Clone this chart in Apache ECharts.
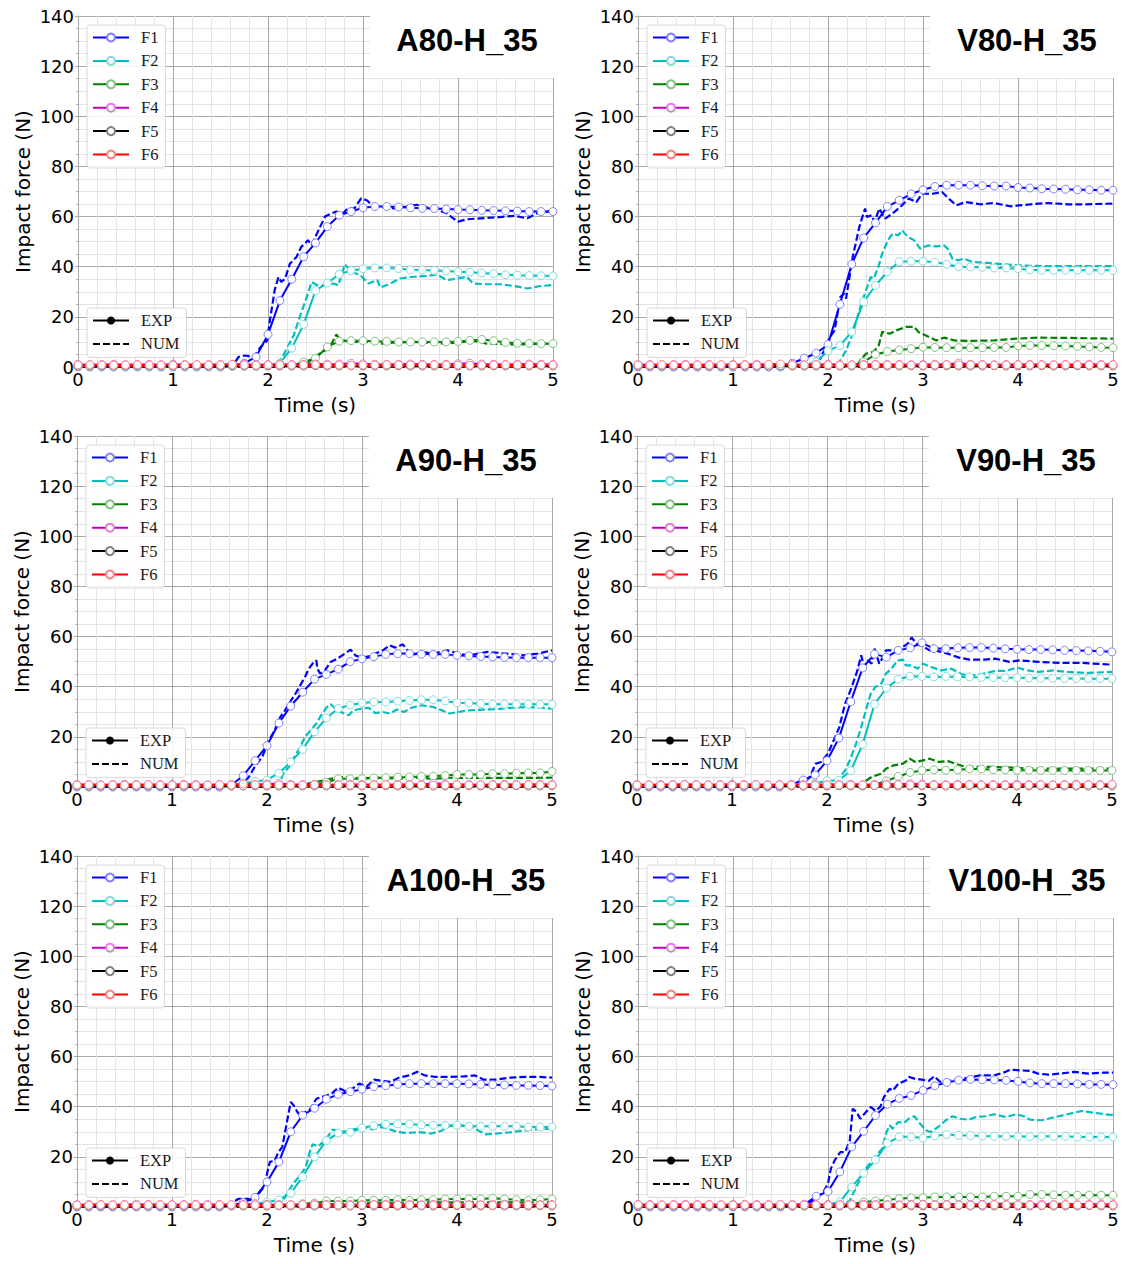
<!DOCTYPE html>
<html>
<head>
<meta charset="utf-8">
<script src="https://cdn.jsdelivr.net/npm/echarts@6/dist/echarts.min.js"></script>
<style>
html,body{margin:0;padding:0;background:#fff;}
#chart{width:1128px;height:1264px;}
</style>
</head>
<body>
<div id="chart"></div>
<script>
// ---------------- DATA ----------------
const PANEL_NAMES = ['A80-H_35','V80-H_35','A90-H_35','V90-H_35','A100-H_35','V100-H_35'];
const FORCE_NAMES = ['F1','F2','F3','F4','F5','F6'];
const X_TICKS = [0,1,2,3,4,5];
const Y_TICKS = [0,20,40,60,80,100,120,140];
const EXP_STEP = 0.125; // EXP samples (s), one marker per sample

// ---- A80-H_35 ----
const A80_F1_EXP = [0,0,0,0,0,0,0,0,0,0,0,0,0,0.3,1.5,4,13,26.5,35,44,49.5,56,60.5,62,63.5,64,64,63.8,63.5,63.3,63.2,63,62.8,62.7,62.5,62.4,62.3,62.2,62,62,62];
const A80_F2_EXP = [0.3,0.3,0.3,0.3,0.3,0.3,0.3,0.3,0.3,0.3,0.3,0.3,0.3,0.3,0.3,0.3,0.3,1.5,7.5,17,30.5,33.5,37,38.5,39.2,39.5,39.5,39.3,38.8,38.7,38.5,38.3,38,37.8,37.5,37.2,36.8,36.6,36.5,36.4,36.3];
const A80_F3_EXP = [0.5,0.5,0.5,0.5,0.5,0.5,0.5,0.5,0.5,0.5,0.5,0.5,0.5,0.5,0.5,0.5,0.5,0.5,0.5,2,3.5,8,10.3,10.5,10.5,10.3,10.2,10,10,10,10,10,10.2,10.6,11,10.5,9.8,9.5,9.4,9.3,9.3];
const A80_F4_EXP = [1.0,0.9,1.0,1.1,0.9,1.0,1.0,0.9,1.1,1.0,0.9,1.0,1.0,1.1,1.0,0.9,1.0,1.1,1.0,1.0,1.2,1.1,1.2,1.5,1.3,1.1,1.0,1.1,1.2,1.1,1.0,1.1,1.3,1.5,1.2,1.1,1.0,1.1,1.2,1.1,1.0];
const A80_F5_EXP = [0.4,0.4,0.5,0.4,0.4,0.5,0.4,0.4,0.4,0.5,0.4,0.4,0.4,0.5,0.4,0.4,0.5,0.4,0.4,0.4,0.5,0.4,0.4,0.5,0.4,0.4,0.4,0.5,0.4,0.4,0.4,0.5,0.4,0.4,0.4,0.5,0.4,0.4,0.4,0.5,0.4];
const A80_F6_EXP = [0.8,0.9,0.8,0.7,0.8,0.9,0.8,0.8,0.7,0.8,0.9,0.8,0.8,1.0,0.8,0.7,0.8,0.9,0.8,0.8,0.9,0.8,0.8,0.7,0.8,0.8,0.9,0.8,0.8,0.8,0.9,0.8,0.8,0.7,0.8,0.8,0.9,0.8,0.8,0.8,0.8];
const A80_F1_NUM = [[0,0],[1.6,0],[1.63,0.5],[1.69,4],[1.76,4.6],[1.85,3.9],[1.92,7.9],[1.99,10.5],[2.02,18.5],[2.07,30.6],[2.11,35.9],[2.14,33.9],[2.18,35.2],[2.23,41.2],[2.3,43.9],[2.35,47.9],[2.39,49.2],[2.42,50.6],[2.46,48.6],[2.49,51.2],[2.55,56],[2.6,60],[2.67,61.3],[2.72,62],[2.79,61.3],[2.84,63.3],[2.91,63.3],[2.98,67.3],[3.04,66.5],[3.09,64.7],[3.18,64],[3.32,63.3],[3.46,64],[3.57,64.7],[3.67,63.7],[3.78,62.7],[3.88,61.3],[3.95,59.3],[4.0,58],[4.09,58.9],[4.24,59.3],[4.41,59.7],[4.59,60.3],[4.73,59.3],[4.83,61.3],[4.94,62],[5,62.4]];
const A80_F2_NUM = [[0,0],[2.05,0],[2.09,1],[2.16,4.6],[2.27,12.6],[2.34,20.6],[2.39,25.9],[2.46,33.9],[2.52,32.6],[2.6,32.6],[2.69,33.3],[2.74,32.6],[2.81,41],[2.87,38],[2.97,36.7],[3.06,33.3],[3.15,34.7],[3.18,31.7],[3.29,33.3],[3.39,35.3],[3.53,36],[3.67,36.3],[3.78,36.9],[3.88,34.7],[3.99,35.3],[4.09,36],[4.16,33.3],[4.3,33],[4.45,33],[4.59,32.3],[4.73,31.3],[4.87,32.3],[5,32.7]];
const A80_F3_NUM = [[0,0],[2.35,0],[2.4,1],[2.49,4],[2.6,6.6],[2.67,9.3],[2.72,13],[2.76,10.7],[2.9,10],[3.04,10],[3.18,9.3],[3.35,9.8],[3.53,10],[3.7,9.6],[3.88,9.3],[4.0,9.8],[4.16,10.5],[4.3,9.3],[4.45,9.2],[4.59,9],[4.8,9.2],[5,9.3]];
const A80_F4_NUM = [[0,0.2],[1.8,0.2],[2.5,0.4],[3,0.3],[4,0.4],[5,0.3]];
const A80_F5_NUM = [[0,0.1],[2.5,0.2],[5,0.1]];
const A80_F6_NUM = [[0,0.3],[1.7,0.3],[2.2,0.5],[3,0.4],[4,0.4],[5,0.3]];

// ---- V80-H_35 ----
const V80_F1_EXP = [0,0,0,0,0,0,0,0,0,0,0,0,0,1.5,3.5,5.5,9,25,41,51.5,57.5,64,66.5,69,70.7,72,72.5,72.5,72.5,72.3,72.2,72.2,71.6,71.4,71.1,71,70.9,70.7,70.7,70.5,70.5];
const V80_F2_EXP = [0.5,0.5,0.5,0.5,0.5,0.5,0.5,0.5,0.5,0.5,0.5,0.5,0.5,0.5,0.5,2,6.5,8.5,14,26,32.5,38,42,42.2,42.2,41.8,41,40,39.9,39.8,39.5,39.5,39.2,38.8,38.6,38.6,38.6,38.6,38.6,38.6,38.6];
const V80_F3_EXP = [0.5,0.5,0.5,0.5,0.5,0.5,0.5,0.5,0.5,0.5,0.5,0.5,0.5,0.5,0.5,0.5,0.5,0.5,0.5,2,5,6.2,6.8,7.3,7.9,7.8,7.7,7.7,7.7,7.7,7.8,7.8,8.4,8.6,8.6,8.5,8.4,8.2,8,7.8,7.7];
const V80_F4_EXP = [0.9,1.0,0.9,1.0,1.1,0.9,1.0,0.9,1.0,1.0,1.1,0.9,1.0,1.0,0.9,1.0,1.1,1.0,0.9,1.0,1.1,1.0,1.0,0.9,1.0,1.1,1.0,1.6,1.1,1.0,0.9,1.0,1.0,1.1,1.0,0.9,1.0,1.0,1.1,1.0,1.0];
const V80_F5_EXP = [0.4,0.5,0.4,0.4,0.4,0.5,0.4,0.4,0.5,0.4,0.4,0.4,0.5,0.4,0.4,0.4,0.5,0.4,0.4,0.5,0.4,0.4,0.4,0.5,0.4,0.4,0.5,0.4,0.4,0.4,0.5,0.4,0.4,0.4,0.5,0.4,0.4,0.5,0.4,0.4,0.4];
const V80_F6_EXP = [0.8,0.8,0.9,0.8,0.7,0.8,0.8,0.9,0.8,0.8,0.7,1.0,1.2,0.8,0.8,0.9,0.8,0.7,0.8,0.8,0.9,0.8,0.8,0.8,0.7,0.8,0.9,0.8,0.8,0.8,0.7,0.8,0.9,0.8,0.8,0.8,0.9,0.8,0.8,0.8,0.9];
const V80_F1_NUM = [[0,0],[1.8,0],[1.92,3.3],[2.02,12],[2.07,14.6],[2.13,27.9],[2.17,29.3],[2.19,27.3],[2.26,43.9],[2.33,55.9],[2.39,63.2],[2.41,59.8],[2.46,60.5],[2.49,57.8],[2.54,63.2],[2.6,59.2],[2.68,61.2],[2.78,64.5],[2.85,67.2],[2.93,65.8],[2.99,69.1],[3.1,69.1],[3.2,69.8],[3.27,67.2],[3.35,64.5],[3.45,65.8],[3.6,64.9],[3.75,65.4],[3.92,64.1],[4.13,64.9],[4.32,65.4],[4.52,64.9],[4.71,64.9],[5,65.2]];
const V80_F2_NUM = [[0,0],[2.08,0],[2.11,1.3],[2.19,6.6],[2.26,13.3],[2.34,23.9],[2.4,30.6],[2.45,35.9],[2.48,35.2],[2.53,39.9],[2.57,45.2],[2.63,50.5],[2.68,53.2],[2.74,52.5],[2.78,54.5],[2.84,51.9],[2.91,50.5],[2.97,47.2],[3.05,48.5],[3.14,48.1],[3.22,48.5],[3.26,47.2],[3.31,43.2],[3.37,42.6],[3.43,43.2],[3.52,41.9],[3.68,41.5],[3.83,41],[3.98,40.6],[4.21,40.3],[4.52,40.2],[5,40.2]];
const V80_F3_NUM = [[0,0],[2.3,0],[2.34,2.7],[2.4,5.3],[2.47,6],[2.53,8],[2.57,14],[2.65,13.3],[2.72,14.6],[2.82,16],[2.91,16],[2.95,14],[3.03,12.6],[3.14,10.6],[3.22,11.7],[3.33,10.6],[3.48,10.4],[3.75,10.6],[3.98,11.3],[4.21,11.7],[4.52,11.6],[5,11.3]];
const V80_F4_NUM = [[0,0.2],[1.9,0.2],[2.6,0.5],[3.3,0.4],[4.2,0.4],[5,0.3]];
const V80_F5_NUM = [[0,0.1],[2.6,0.2],[5,0.1]];
const V80_F6_NUM = [[0,0.3],[1.8,0.3],[2.3,0.5],[3.2,0.4],[4.1,0.4],[5,0.3]];

// ---- A90-H_35 ----
const A90_F1_EXP = [0,0,0,0,0,0,0,0,0,0,0,0,0,0.8,4.5,10.5,16.5,25.5,32.3,37.8,43,44.9,47,50,51.1,52,52.9,53.2,53.2,53,52.9,52.9,52.5,52.3,52.1,51.9,51.7,51.6,51.6,51.6,51.6];
const A90_F2_EXP = [0.5,0.5,0.5,0.5,0.5,0.5,0.5,0.5,0.5,0.5,0.5,0.5,0.5,0.5,1.5,2.2,2.8,5.5,10,15,22,27.5,31.3,32.7,33.5,33.9,33.9,34.2,34.5,34.8,34.8,34.3,33.6,33.5,33.2,33,33,33,33,33,33];
const A90_F3_EXP = [0.5,0.5,0.5,0.5,0.5,0.5,0.5,0.5,0.5,0.5,0.5,0.5,0.5,0.5,0.5,0.5,0.5,0.5,0.5,0.8,1,1.8,3.3,3.3,3.3,3.6,3.7,3.9,4,4.2,4.3,4.6,5,5,5,5.3,5.3,5.5,5.6,5.6,6.2];
const A90_F4_EXP = [1.0,1.0,0.9,1.0,1.1,1.0,0.9,1.0,1.0,1.1,1.0,0.9,1.0,1.0,1.1,1.0,1.2,1.4,1.1,1.0,1.0,0.9,1.0,1.1,1.0,1.0,0.9,1.0,1.1,1.0,1.5,1.2,1.0,1.0,0.9,1.0,1.1,1.0,1.0,1.1,1.0];
const A90_F5_EXP = [0.5,0.4,0.4,0.4,0.5,0.4,0.4,0.5,0.4,0.4,0.4,0.5,0.4,0.4,0.4,0.5,0.4,0.4,0.5,0.4,0.4,0.4,0.5,0.4,0.4,0.4,0.5,0.4,0.4,0.5,0.4,0.4,0.4,0.5,0.4,0.4,0.4,0.5,0.4,0.4,0.5];
const A90_F6_EXP = [0.8,0.9,0.8,0.8,0.7,0.8,0.9,0.8,0.8,0.8,0.7,0.8,0.9,0.8,1.2,0.9,0.8,0.8,0.7,0.8,0.9,0.8,0.8,0.8,0.7,0.8,0.9,0.8,0.8,0.8,0.7,0.8,0.9,0.8,0.8,0.8,0.7,0.8,0.9,0.8,0.8];
const A90_F1_NUM = [[0,0],[1.64,0],[1.74,1.3],[1.81,4],[1.87,8],[1.95,12],[2.02,18.6],[2.08,22.6],[2.14,27.9],[2.19,30.6],[2.23,33.2],[2.29,36.6],[2.34,39.9],[2.4,43.9],[2.44,47.2],[2.48,49.2],[2.52,50.5],[2.53,47.2],[2.56,45.2],[2.61,46.5],[2.67,49.9],[2.74,51.2],[2.82,53.2],[2.88,54.8],[2.93,52.5],[2.99,51.6],[3.07,52.1],[3.14,53.2],[3.22,54.5],[3.29,56.5],[3.35,55.6],[3.43,56.9],[3.48,54.5],[3.52,52.5],[3.63,53.9],[3.75,53.2],[3.9,54.5],[4.01,53.2],[4.13,52.5],[4.32,53.9],[4.51,53.2],[4.7,52.5],[4.85,53.2],[5,54.5]];
const A90_F2_NUM = [[0,0],[2.12,0],[2.17,5.3],[2.23,8],[2.29,12],[2.34,15.3],[2.4,20],[2.46,22.6],[2.52,25.3],[2.57,28.6],[2.63,31.9],[2.67,33],[2.74,30.6],[2.8,29.5],[2.86,28.6],[2.91,30.6],[2.99,31.2],[3.07,31.6],[3.14,29.5],[3.22,29.9],[3.29,29.3],[3.37,30.9],[3.44,29.9],[3.52,31.6],[3.63,32.6],[3.75,31.9],[3.84,30.6],[3.92,29.3],[4.01,29.9],[4.13,30.6],[4.28,30.9],[4.43,31.1],[4.58,31.6],[4.73,31.9],[4.89,31.6],[5,31.2]];
const A90_F3_NUM = [[0,0],[2.23,0],[2.42,1.3],[2.61,2.7],[2.72,3.7],[2.84,4],[2.99,3.5],[3.18,3.7],[3.37,3.3],[3.56,3.7],[3.75,3.3],[3.94,3.7],[4.13,3.6],[4.51,3.6],[5,3.7]];
const A90_F4_NUM = [[0,0.2],[1.8,0.2],[2.4,0.4],[3.2,0.3],[4.3,0.4],[5,0.3]];
const A90_F5_NUM = [[0,0.1],[2.4,0.2],[5,0.1]];
const A90_F6_NUM = [[0,0.3],[1.7,0.3],[2.1,0.5],[3,0.4],[4,0.4],[5,0.3]];

// ---- V90-H_35 ----
const V90_F1_EXP = [0,0,0,0,0,0,0,0,0,0,0,0,0,1,2.8,4.8,10.5,19.5,34,47.5,53,51.8,54.5,55.5,57.5,55.2,55.2,55.5,55.6,55.6,55.4,55.1,54.9,54.8,54.8,54.7,54.5,54.4,54.3,54.1,53.9];
const V90_F2_EXP = [0.5,0.5,0.5,0.5,0.5,0.5,0.5,0.5,0.5,0.5,0.5,0.5,0.5,0.5,0.5,1.5,2.5,2.7,6.5,17,33,39.5,43,44.2,44.1,43.9,44.1,43.9,43.9,43.7,43.7,43.6,43.6,43.5,43.4,43.4,43.3,43.3,43.2,43.2,43.2];
const V90_F3_EXP = [0.5,0.5,0.5,0.5,0.5,0.5,0.5,0.5,0.5,0.5,0.5,0.5,0.5,0.5,0.5,0.5,0.5,0.5,0.5,0.5,0.9,2.4,4.2,5.8,6.6,6.9,6.7,6.9,7.2,7.2,6.9,6.9,6.7,6.7,6.6,6.6,6.6,6.6,6.6,6.6,6.6];
const V90_F4_EXP = [1.0,0.9,1.0,1.0,1.1,1.0,0.9,1.0,1.1,1.0,1.0,0.9,1.0,1.1,1.0,1.0,0.9,1.0,1.1,1.0,1.0,1.2,1.1,1.3,1.2,1.0,1.0,1.1,1.0,0.9,1.0,1.0,1.1,1.0,1.0,0.9,1.0,1.1,1.0,1.0,1.0];
const V90_F5_EXP = [0.4,0.4,0.5,0.4,0.4,0.4,0.5,0.4,0.4,0.5,0.4,0.4,0.4,0.5,0.4,0.4,0.4,0.5,0.4,0.4,0.5,0.4,0.4,0.4,0.5,0.4,0.4,0.4,0.5,0.4,0.4,0.5,0.4,0.4,0.4,0.5,0.4,0.4,0.4,0.5,0.4];
const V90_F6_EXP = [0.8,0.8,0.7,0.8,0.9,0.8,0.8,0.8,0.7,0.8,0.9,0.8,0.8,0.8,0.7,0.8,0.9,0.8,0.8,0.8,0.7,0.8,0.9,0.8,0.8,0.8,0.7,0.8,0.9,0.8,0.8,0.8,0.7,0.8,0.9,0.8,0.8,0.8,0.9,0.8,1.0];
const V90_F1_NUM = [[0,0],[1.61,0],[1.75,1.3],[1.82,4],[1.88,9.3],[1.94,10],[2.01,13.3],[2.07,18.6],[2.13,23.9],[2.19,33.2],[2.22,35.9],[2.26,39.9],[2.32,46.5],[2.36,52.5],[2.39,47.9],[2.43,50.5],[2.47,49.2],[2.5,55.2],[2.55,49.2],[2.59,51.9],[2.62,54.5],[2.68,54.5],[2.74,54.5],[2.8,55.9],[2.85,57.2],[2.89,59.6],[2.95,56.9],[3.01,56.1],[3.08,54.5],[3.16,54.3],[3.27,53.2],[3.39,51.6],[3.5,50.8],[3.65,50.8],[3.77,51.2],[3.92,49.9],[4.03,50.5],[4.23,49.9],[4.45,49.5],[4.68,49.5],[5,48.8]];
const V90_F2_NUM = [[0,0],[2.01,0],[2.11,2.7],[2.19,6.6],[2.24,10.6],[2.3,16.6],[2.36,23.9],[2.41,30.6],[2.46,37.2],[2.51,39.9],[2.57,41.2],[2.62,45.2],[2.68,47.2],[2.74,50.5],[2.8,50.8],[2.83,48.5],[2.89,48.5],[2.95,47.2],[3.01,49.2],[3.08,48.1],[3.2,46.5],[3.31,47.2],[3.42,44.9],[3.54,44.5],[3.65,45.2],[3.77,46.3],[3.88,46.3],[4.0,47.6],[4.11,46.5],[4.23,45.9],[4.38,46.5],[4.53,45.9],[4.72,45.5],[5,45.9]];
const V90_F3_NUM = [[0,0],[2.24,0],[2.36,1.3],[2.47,4],[2.57,5.3],[2.62,7.3],[2.7,8.6],[2.8,9.3],[2.87,11.3],[2.93,10],[3.01,10.6],[3.08,11.3],[3.18,10],[3.27,10.4],[3.35,9.3],[3.46,8],[3.62,8],[3.77,8],[3.96,7.7],[4.15,7.3],[4.53,7.3],[5,7.3]];
const V90_F4_NUM = [[0,0.2],[1.9,0.2],[2.6,0.5],[3.4,0.4],[4.2,0.4],[5,0.3]];
const V90_F5_NUM = [[0,0.1],[2.7,0.2],[5,0.1]];
const V90_F6_NUM = [[0,0.3],[1.8,0.3],[2.3,0.5],[3.1,0.4],[4,0.4],[5,0.3]];

// ---- A100-H_35 ----
const A100_F1_EXP = [0,0,0,0,0,0,0,0,0,0,0,0,0,0.5,1.8,3.8,10,18,30,36.6,39.4,43,44.9,46,47,48,48.4,48.9,49.2,49.2,49.2,49.2,49.2,49.1,48.9,48.8,48.7,48.5,48.5,48.4,48.3];
const A100_F2_EXP = [0.5,0.5,0.5,0.5,0.5,0.5,0.5,0.5,0.5,0.5,0.5,0.5,0.5,0.5,0.5,1.2,2,2.8,5.5,12,20,26.5,29.5,29.8,31.5,32.5,33,33.2,33.1,32.7,32.6,32.6,32.6,32.2,32.2,32.2,32.2,32.2,31.9,31.9,31.9];
const A100_F3_EXP = [0.5,0.5,0.5,0.5,0.5,0.5,0.5,0.5,0.5,0.5,0.5,0.5,0.5,0.5,0.5,0.5,0.5,0.5,0.5,1.3,1.6,2.4,2.4,2.4,2.7,2.7,2.7,2.9,2.7,2.9,2.9,3.2,3.2,3.2,3.2,3.5,3.2,2.9,2.7,2.9,3.2];
const A100_F4_EXP = [0.9,1.0,1.0,0.9,1.0,1.1,1.0,1.0,0.9,1.0,1.1,1.0,1.0,0.9,1.0,1.3,1.1,1.0,1.0,0.9,1.0,1.1,1.0,1.0,0.9,1.0,1.1,1.0,1.0,0.9,1.0,1.1,1.0,1.0,0.9,1.0,1.1,1.0,1.0,0.9,1.0];
const A100_F5_EXP = [0.4,0.4,0.4,0.5,0.4,0.4,0.5,0.4,0.4,0.4,0.5,0.4,0.4,0.5,0.4,0.4,0.4,0.5,0.4,0.4,0.4,0.5,0.4,0.4,0.5,0.4,0.4,0.4,0.5,0.4,0.4,0.4,0.5,0.4,0.4,0.5,0.4,0.4,0.4,0.5,0.4];
const A100_F6_EXP = [0.8,0.8,0.9,0.8,0.8,0.7,0.8,0.9,0.8,0.8,0.8,0.7,0.8,0.9,0.8,0.8,0.8,0.7,0.8,0.9,0.8,0.8,0.8,0.7,0.8,0.9,0.8,0.8,0.8,0.7,0.8,0.9,0.8,0.8,0.8,0.7,0.8,0.9,0.8,0.8,0.8];
const A100_F1_NUM = [[0,0],[1.57,0],[1.65,2],[1.7,3.3],[1.8,3.3],[1.86,2],[1.91,5.3],[1.97,8],[2.0,13.3],[2.03,18],[2.08,18.4],[2.12,21.9],[2.16,23.9],[2.2,31.9],[2.25,41.9],[2.28,40.6],[2.32,37.9],[2.36,35.9],[2.4,37.9],[2.44,38.3],[2.49,41.2],[2.52,43.2],[2.58,43.9],[2.63,44.5],[2.69,45.5],[2.75,47.6],[2.82,46.3],[2.9,47.2],[2.97,49.2],[3.05,48.1],[3.13,50.8],[3.22,50.3],[3.3,49.9],[3.39,51.6],[3.5,52.5],[3.58,53.9],[3.66,52.5],[3.77,51.9],[3.92,51.9],[4.07,52.1],[4.19,52.5],[4.28,50.8],[4.41,50.8],[4.56,51.6],[4.72,51.9],[4.87,51.9],[5,51.6]];
const A100_F2_NUM = [[0,0],[2.1,0],[2.18,3.3],[2.23,6.6],[2.29,10],[2.35,12.6],[2.41,16],[2.45,21.9],[2.48,25],[2.54,24.2],[2.59,25.9],[2.65,28.6],[2.69,30.9],[2.77,29.9],[2.84,30.3],[2.94,31.2],[3.01,31.9],[3.11,30.9],[3.2,31.9],[3.3,30.9],[3.37,29.9],[3.48,29.5],[3.6,29.9],[3.73,29.3],[3.83,30.3],[3.92,32.2],[4.03,32.6],[4.15,32.2],[4.22,30.6],[4.3,29],[4.41,29.3],[4.56,29.8],[4.72,30.6],[4.87,31.1],[5,31.2]];
const A100_F3_NUM = [[0,0],[2.3,0],[2.5,0.8],[2.8,1.3],[3.0,1.6],[3.5,1.8],[4.0,1.9],[4.5,1.9],[5,1.9]];
const A100_F4_NUM = [[0,0.2],[1.8,0.2],[2.5,0.4],[3.3,0.3],[4.2,0.4],[5,0.3]];
const A100_F5_NUM = [[0,0.1],[2.5,0.2],[5,0.1]];
const A100_F6_NUM = [[0,0.3],[1.7,0.3],[2.2,0.5],[3,0.4],[4.1,0.4],[5,0.3]];

// ---- V100-H_35 ----
const V100_F1_EXP = [0,0,0,0,0,0,0,0,0,0,0,0,0,0.3,1,4.3,6.2,14,24,30.2,36.5,41,43.3,44.5,46.5,48.3,49.7,50.6,50.9,50.8,50.7,50.5,50.1,49.5,49.2,49.2,49.2,49.1,48.9,48.9,48.8];
const V100_F2_EXP = [0.5,0.5,0.5,0.5,0.5,0.5,0.5,0.5,0.5,0.5,0.5,0.5,0.5,0.5,0.5,0.5,1,2,8,13.5,18.8,25.5,28,28,27.5,28.4,28.9,28.6,28.5,28.3,28.2,28.2,28.1,28.1,28.2,28.2,28.2,27.9,27.9,27.9,27.9];
const V100_F3_EXP = [0.5,0.5,0.5,0.5,0.5,0.5,0.5,0.5,0.5,0.5,0.5,0.5,0.5,0.5,0.5,0.5,0.5,0.5,1.2,2,2.4,2.9,3.3,3.7,3.7,4,4,4,4,4,4.3,4.3,4.3,5,5,4.9,4.7,4.7,4.7,4.7,4.7];
const V100_F4_EXP = [1.0,1.0,0.9,1.0,1.1,1.0,1.0,0.9,1.0,1.1,1.0,1.0,0.9,1.0,1.1,1.0,1.0,0.9,1.0,1.1,1.0,1.0,0.9,1.0,1.1,1.0,1.0,0.9,1.0,1.1,1.0,1.0,0.9,1.0,1.1,1.0,1.0,0.9,1.0,1.1,1.0];
const V100_F5_EXP = [0.4,0.5,0.4,0.4,0.4,0.5,0.4,0.4,0.4,0.5,0.4,0.4,0.5,0.4,0.4,0.4,0.5,0.4,0.4,0.4,0.5,0.4,0.4,0.5,0.4,0.4,0.4,0.5,0.4,0.4,0.4,0.5,0.4,0.4,0.5,0.4,0.4,0.4,0.5,0.4,0.4];
const V100_F6_EXP = [0.9,0.8,0.8,0.8,0.7,0.8,0.9,0.8,0.8,0.8,0.7,0.8,0.9,0.8,0.8,0.8,0.7,0.8,0.9,0.8,0.8,0.8,0.7,0.8,0.9,0.8,0.8,0.8,0.7,0.8,0.9,0.8,0.8,0.8,0.7,0.8,0.9,0.8,0.8,0.8,0.8];
const V100_F1_NUM = [[0,0],[1.6,0],[1.73,1.3],[1.82,2],[1.88,4],[1.94,5.3],[2.0,9.3],[2.03,15.3],[2.07,18.6],[2.13,21.9],[2.18,21.9],[2.23,26.6],[2.26,39.2],[2.3,37.9],[2.34,35.2],[2.4,37.9],[2.45,39.9],[2.5,38.3],[2.55,39.9],[2.59,43.9],[2.65,47.2],[2.68,46.3],[2.74,49.2],[2.82,50.5],[2.85,51.9],[2.91,51.2],[2.99,50.8],[3.06,50.3],[3.12,52.1],[3.18,49.9],[3.26,50.3],[3.37,50.8],[3.48,51.6],[3.6,52.5],[3.75,52.5],[3.87,53.9],[3.92,54.8],[4.02,54.5],[4.13,54.3],[4.21,53.2],[4.32,52.8],[4.44,53.2],[4.59,53.9],[4.74,53.2],[4.9,53.6],[5,53.6]];
const V100_F2_NUM = [[0,0],[2.15,0],[2.23,2.7],[2.28,6.6],[2.34,11.3],[2.4,15.3],[2.45,18],[2.51,20.6],[2.57,23.3],[2.61,29.3],[2.65,32.6],[2.68,31.2],[2.74,33.9],[2.8,33.5],[2.85,35.2],[2.91,36.2],[2.97,33.2],[3.03,30.6],[3.08,29.9],[3.16,31.9],[3.24,34.6],[3.31,36.2],[3.39,35.2],[3.48,34.8],[3.56,35.9],[3.66,36.2],[3.75,37],[3.87,35.9],[3.98,37],[4.06,36.2],[4.13,34.8],[4.25,34.6],[4.36,35.6],[4.52,37],[4.67,38.3],[4.82,37.5],[5,36.6]];
const V100_F3_NUM = [[0,0],[2.3,0],[2.5,0.8],[2.7,1.1],[3.0,1.2],[3.5,1.2],[4,1.3],[4.5,1.2],[5,1.2]];
const V100_F4_NUM = [[0,0.2],[1.8,0.2],[2.5,0.4],[3.3,0.3],[4.2,0.4],[5,0.3]];
const V100_F5_NUM = [[0,0.1],[2.5,0.2],[5,0.1]];
const V100_F6_NUM = [[0,0.3],[1.7,0.3],[2.2,0.5],[3,0.4],[4,0.4],[5,0.3]];

const PANEL_EXP = [
  [A80_F1_EXP,A80_F2_EXP,A80_F3_EXP,A80_F4_EXP,A80_F5_EXP,A80_F6_EXP],
  [V80_F1_EXP,V80_F2_EXP,V80_F3_EXP,V80_F4_EXP,V80_F5_EXP,V80_F6_EXP],
  [A90_F1_EXP,A90_F2_EXP,A90_F3_EXP,A90_F4_EXP,A90_F5_EXP,A90_F6_EXP],
  [V90_F1_EXP,V90_F2_EXP,V90_F3_EXP,V90_F4_EXP,V90_F5_EXP,V90_F6_EXP],
  [A100_F1_EXP,A100_F2_EXP,A100_F3_EXP,A100_F4_EXP,A100_F5_EXP,A100_F6_EXP],
  [V100_F1_EXP,V100_F2_EXP,V100_F3_EXP,V100_F4_EXP,V100_F5_EXP,V100_F6_EXP]
];
const PANEL_NUM = [
  [A80_F1_NUM,A80_F2_NUM,A80_F3_NUM,A80_F4_NUM,A80_F5_NUM,A80_F6_NUM],
  [V80_F1_NUM,V80_F2_NUM,V80_F3_NUM,V80_F4_NUM,V80_F5_NUM,V80_F6_NUM],
  [A90_F1_NUM,A90_F2_NUM,A90_F3_NUM,A90_F4_NUM,A90_F5_NUM,A90_F6_NUM],
  [V90_F1_NUM,V90_F2_NUM,V90_F3_NUM,V90_F4_NUM,V90_F5_NUM,V90_F6_NUM],
  [A100_F1_NUM,A100_F2_NUM,A100_F3_NUM,A100_F4_NUM,A100_F5_NUM,A100_F6_NUM],
  [V100_F1_NUM,V100_F2_NUM,V100_F3_NUM,V100_F4_NUM,V100_F5_NUM,V100_F6_NUM]
];

// ---------------- STYLE / LAYOUT ----------------
const LINE_COLORS = ['#0000ff','#00bfbf','#008000','#bf00bf','#000000','#ff0000'];
const MARKER_EDGE = ['#8080ff','#80dcdc','#80c080','#dc80dc','#808080','#ff8080'];
const GRID_LEFT = [78,638,77,637,77,638];
const GRID_TOP = [16,16,436,436,856,856];
const GRID_W = 475, GRID_H = 351;
const TICK_FONT = 'DejaVu Sans';

const grids = [], xAxes = [], yAxes = [], series = [], legends = [], graphics = [];

PANEL_NAMES.forEach((pname, p) => {
  const gl = GRID_LEFT[p], gt = GRID_TOP[p];
  grids.push({left: gl, top: gt, width: GRID_W, height: GRID_H, containLabel: false});
  xAxes.push({
    type: 'value', gridIndex: p, min: X_TICKS[0], max: X_TICKS[X_TICKS.length-1], interval: 1,
    name: 'Time (s)', nameLocation: 'middle', nameGap: 28,
    nameTextStyle: {fontFamily: TICK_FONT, fontSize: 20, color: '#000'},
    axisLine: {show: true, lineStyle: {color: '#a8a8a8', width: 1}},
    axisTick: {show: false},
    axisLabel: {fontFamily: TICK_FONT, fontSize: 18, color: '#000', margin: 3},
    splitLine: {show: true, lineStyle: {color: '#a8a8a8', width: 1}},
    minorTick: {show: false, splitNumber: 5},
    minorSplitLine: {show: true, lineStyle: {color: '#e3e3e3', width: 1}}
  });
  yAxes.push({
    type: 'value', gridIndex: p, min: Y_TICKS[0], max: Y_TICKS[Y_TICKS.length-1], interval: 20,
    name: 'Impact force (N)', nameLocation: 'middle', nameGap: 45, nameRotate: 90,
    nameTextStyle: {fontFamily: TICK_FONT, fontSize: 20, color: '#000'},
    axisLine: {show: true, lineStyle: {color: '#a8a8a8', width: 1}},
    axisTick: {show: true, length: 3, lineStyle: {color: '#a8a8a8'}},
    axisLabel: {fontFamily: TICK_FONT, fontSize: 18, color: '#000', margin: 4},
    splitLine: {show: true, lineStyle: {color: '#a8a8a8', width: 1}},
    minorTick: {show: true, splitNumber: 4, length: 2, lineStyle: {color: '#b8b8b8'}},
    minorSplitLine: {show: true, lineStyle: {color: '#e3e3e3', width: 1}}
  });
  FORCE_NAMES.forEach((fname, k) => {
    series.push({
      name: fname, type: 'line', xAxisIndex: p, yAxisIndex: p,
      data: PANEL_EXP[p][k].map((v, i) => [i * EXP_STEP, v]),
      symbol: 'circle', symbolSize: 8, showSymbol: true,
      lineStyle: {color: LINE_COLORS[k], width: 2},
      itemStyle: {color: '#ffffff', borderColor: MARKER_EDGE[k], borderWidth: 1},
      emphasis: {disabled: true}, silent: true
    });
    series.push({
      name: fname + ' NUM', type: 'line', xAxisIndex: p, yAxisIndex: p,
      data: PANEL_NUM[p][k],
      symbol: 'none', showSymbol: false,
      lineStyle: {color: LINE_COLORS[k], width: 2.2, type: [7, 3]},
      emphasis: {disabled: true}, silent: true
    });
  });
  const legendBase = {
    orient: 'vertical', itemWidth: 36, itemHeight: 10, itemGap: 6.4,
    padding: [4, 7, 5, 5], backgroundColor: 'rgba(255,255,255,0.85)',
    borderColor: '#d9d9d9', borderWidth: 1, borderRadius: 3,
    textStyle: {fontFamily: 'Liberation Serif', fontSize: 16.5, color: '#1a1a1a', lineHeight: 16.5, padding: [0,0,0,7]},
    selectedMode: false, z: 5
  };
  legends.push(Object.assign({}, legendBase, {left: gl + 9, top: gt + 9, data: FORCE_NAMES.slice()}));
  legends.push(Object.assign({}, legendBase, {left: gl + 9, top: gt + 292,
    data: [{name: 'EXP'}, {name: 'NUM', itemStyle: {opacity: 0}}]}));
  graphics.push({type: 'rect', shape: {x: gl + 292, y: gt - 16, width: 200, height: 78},
    style: {fill: '#ffffff'}, z: 3, silent: true});
  graphics.push({type: 'text', x: gl + 389, y: gt + 24, z: 10, silent: true,
    style: {text: pname, fontFamily: '"Liberation Sans", Arial, sans-serif', fontWeight: 'bold',
      fontSize: 31, fill: '#000', align: 'center', verticalAlign: 'middle'}});
});

// legend-only style series for EXP / NUM
series.push({name: 'EXP', type: 'line', xAxisIndex: 0, yAxisIndex: 0, data: [],
  symbol: 'circle', symbolSize: 8, lineStyle: {color: '#000', width: 2}, itemStyle: {color: '#000'}});
series.push({name: 'NUM', type: 'line', xAxisIndex: 0, yAxisIndex: 0, data: [],
  symbol: 'none', lineStyle: {color: '#000', width: 2, type: [7, 3]}, itemStyle: {color: '#000'}});

const chart = echarts.init(document.getElementById('chart'), null, {renderer: 'svg', width: 1128, height: 1264});
chart.setOption({
  animation: false,
  backgroundColor: '#ffffff',
  grid: grids, xAxis: xAxes, yAxis: yAxes,
  legend: legends, series: series,
  graphic: {elements: graphics}
});
</script>
</body>
</html>
